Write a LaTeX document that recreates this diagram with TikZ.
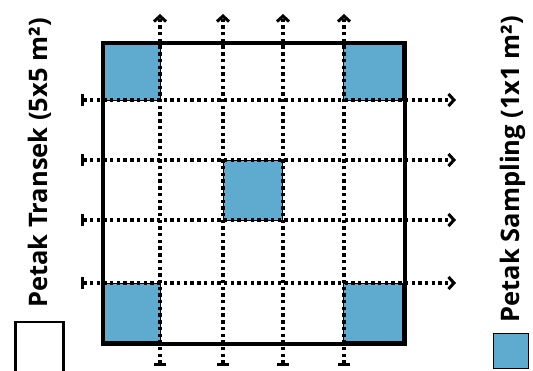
\documentclass[tikz,border=0pt]{standalone}
\usepackage{fontspec}
\setmainfont{Open Sans}
\usetikzlibrary{arrows.meta}
\definecolor{plotblue}{HTML}{5FAACF}
\tikzset{
  plot/.style={fill=plotblue, draw=black, line width=1pt},
  transect/.style={line width=3.4pt, dash pattern=on 3.4pt off 3.3pt,
    {Bar[width=12pt,line width=3pt]}-{Straight Barb[length=5.5pt,width=12pt,line width=3pt]}},
  frame/.style={draw=black, line width=4pt},
  legendtext/.style={rotate=90, font=\bfseries\fontsize{25.5}{30}\selectfont, inner sep=0pt},
}
\begin{document}
\begin{tikzpicture}[x=1pt,y=-1pt]
\useasboundingbox (0,0) rectangle (533,371);
% sampling plots
\node[plot, minimum width=59pt, minimum height=59pt, inner sep=0pt, anchor=north west] (p1) at (101,41) {};
\node[plot, minimum width=59pt, minimum height=59pt, inner sep=0pt, anchor=north east] (p2) at (403,41) {};
\node[plot, minimum width=59pt, minimum height=60pt, inner sep=0pt, anchor=north west] (p3) at (223,160) {};
\node[plot, minimum width=59pt, minimum height=58pt, inner sep=0pt, anchor=south west] (p4) at (101,342) {};
\node[plot, minimum width=59pt, minimum height=58pt, inner sep=0pt, anchor=south east] (p5) at (403,342) {};
% transect lines
\foreach \y [count=\i] in {100,160,220,283} {
  \coordinate (hs\i) at (81,\y);
  \coordinate (he\i) at (456,\y);
  \draw[transect] (hs\i) -- (he\i);
}
\foreach \x [count=\i] in {160,223,283,344} {
  \coordinate (vs\i) at (\x,366);
  \coordinate (ve\i) at (\x,14);
  \draw[transect] (vs\i) -- (ve\i);
}
% main frame
\node[frame, minimum width=302pt, minimum height=301pt, inner sep=0pt, anchor=north west] (frame) at (101,41) {};
% legends
\node[draw=black, line width=2.5pt, minimum width=48pt, minimum height=60pt, anchor=north west, inner sep=0pt] (lbox) at (14,321) {};
\node[legendtext] (ltext) at (40,163) {Petak Transek (5x5 m²)};
\node[plot, minimum width=35pt, minimum height=35pt, inner sep=0pt, anchor=north west] (rbox) at (493,333) {};
\node[legendtext] (rtext) at (513,169) {Petak Sampling (1x1 m²)};
\end{tikzpicture}
\end{document}
